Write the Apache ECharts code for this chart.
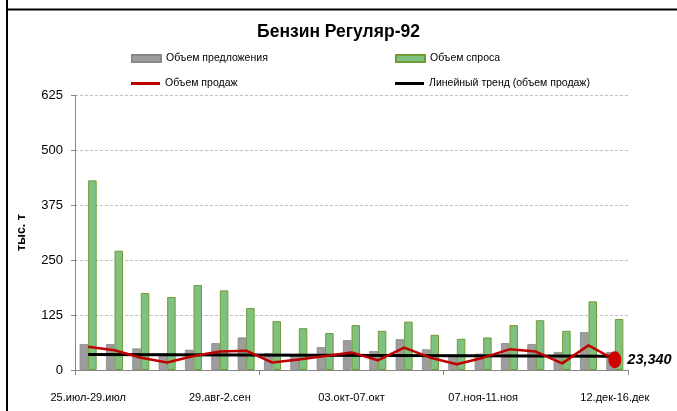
<!DOCTYPE html>
<html>
<head>
<meta charset="utf-8">
<script src="https://cdn.jsdelivr.net/npm/echarts@6/dist/echarts.min.js"></script>
<style>
  html, body { margin: 0; padding: 0; background: #fff; }
  #chart { width: 677px; height: 411px; }
</style>
</head>
<body>
<div id="chart"></div>
<script>
// недели
var weeks = [
  '25.июл-29.июл', '01.авг-05.авг', '08.авг-12.авг', '15.авг-19.авг', '22.авг-26.авг',
  '29.авг-2.сен', '05.сен-09.сен', '12.сен-16.сен', '19.сен-23.сен', '26.сен-30.сен',
  '03.окт-07.окт', '10.окт-14.окт', '17.окт-21.окт', '24.окт-28.окт', '31.окт-04.ноя',
  '07.ноя-11.ноя', '14.ноя-18.ноя', '21.ноя-25.ноя', '28.ноя-02.дек', '05.дек-09.дек',
  '12.дек-16.дек'
];
// объем предложения, тыс. т
var supply = [59, 59, 49, 38, 46, 61, 74, 38, 33, 52, 68, 43, 70, 47, 32, 37, 61, 59, 41, 86, 41];
// объем спроса, тыс. т
var demand = [431, 271, 175, 166, 193, 181, 141, 111, 95, 84, 102, 89, 110, 80, 71, 74, 102, 113, 89, 156, 116];
// объем продаж, тыс. т
var sales = [53, 45, 28, 17, 32, 42, 44, 17, 24, 32, 40, 22, 51, 28, 13, 28, 47, 42, 15, 56, 23.34];
// линейный тренд: начало и конец
var trendEnds = [35, 31.5];
var yTicks = [0, 125, 250, 375, 500, 625];

var FONT = '"Liberation Sans", Arial, sans-serif';

var last = sales.length - 1;
var salesData = sales.map(function (v, i) {
  if (i !== last) return v;
  return {
    value: v,
    symbol: 'circle',
    symbolSize: [13, 17],
    itemStyle: { color: '#d00000' },
    label: {
      show: true,
      position: 'right',
      distance: 6,
      fontFamily: FONT,
      fontSize: 14.5,
      fontWeight: 'bold',
      fontStyle: 'italic',
      color: '#000',
      formatter: function (p) {
        return p.value.toFixed(3).replace('.', ',');
      }
    }
  };
});

var trendData = [[0, trendEnds[0]], [last, trendEnds[1]]];

var legendText = { fontFamily: FONT, fontSize: 10.5, color: '#000' };

var chart = echarts.init(document.getElementById('chart'), null, { renderer: 'canvas' });

chart.setOption({
  animation: false,
  backgroundColor: '#fff',
  textStyle: { fontFamily: FONT },
  title: {
    text: 'Бензин Регуляр-92',
    left: 'center',
    top: 18,
    textStyle: { fontFamily: FONT, fontSize: 17.5, fontWeight: 'bold', color: '#000' }
  },
  legend: [
    { data: [{ name: 'Объем предложения', icon: 'rect' }], left: 126, top: 48, itemWidth: 29, itemHeight: 7, itemGap: 0, textStyle: legendText },
    { data: [{ name: 'Объем спроса', icon: 'rect' }], left: 390, top: 48, itemWidth: 29, itemHeight: 7, itemGap: 0, textStyle: legendText },
    { data: [{ name: 'Объем продаж', icon: 'rect' }], left: 126, top: 73, itemWidth: 29, itemHeight: 3, itemGap: 0, textStyle: legendText },
    { data: [{ name: 'Линейный тренд (объем продаж)', icon: 'rect' }], left: 390, top: 73, itemWidth: 29, itemHeight: 3, itemGap: 0, textStyle: legendText }
  ],
  grid: { left: 75, right: 49, top: 95, bottom: 41, containLabel: false },
  xAxis: {
    type: 'category',
    data: weeks,
    boundaryGap: true,
    axisLine: { lineStyle: { color: '#868686', width: 1 } },
    axisTick: { show: true, interval: 6, length: 5, lineStyle: { color: '#868686' } },
    axisLabel: { interval: 4, fontSize: 11, color: '#000', margin: 22, fontFamily: FONT },
    splitLine: { show: false }
  },
  yAxis: {
    type: 'value',
    min: yTicks[0],
    max: yTicks[yTicks.length - 1],
    interval: yTicks[1] - yTicks[0],
    name: 'тыс. т',
    nameLocation: 'middle',
    nameRotate: 90,
    nameGap: 47,
    nameTextStyle: { fontFamily: FONT, fontSize: 12.5, fontWeight: 'bold', color: '#000' },
    axisLine: { show: true, lineStyle: { color: '#868686' } },
    axisTick: { show: true, length: 4, lineStyle: { color: '#868686' } },
    axisLabel: { fontSize: 13, color: '#000', margin: 12, fontFamily: FONT },
    splitLine: { lineStyle: { color: '#c0c0c0', type: [3, 2] } }
  },
  series: [
    {
      name: 'Объем предложения',
      type: 'bar',
      data: supply,
      barWidth: 8.5,
      barGap: '0%',
      itemStyle: { color: '#9d9d9d', borderColor: '#878787', borderWidth: 0.8 }
    },
    {
      name: 'Объем спроса',
      type: 'bar',
      data: demand,
      barWidth: 8.5,
      barGap: '0%',
      itemStyle: { color: '#80c080', borderColor: '#6f9b34', borderWidth: 1 }
    },
    {
      name: 'Объем продаж',
      type: 'line',
      data: salesData,
      symbol: 'none',
      z: 4,
      lineStyle: { color: '#c00000', width: 2.5 },
      itemStyle: { color: '#c00000' }
    },
    {
      name: 'Линейный тренд (объем продаж)',
      type: 'line',
      data: trendData,
      symbol: 'none',
      z: 3,
      lineStyle: { color: '#000', width: 3 },
      itemStyle: { color: '#000' }
    }
  ],
  graphic: [
    { type: 'line', shape: { x1: 7, y1: 0, x2: 7, y2: 411 }, style: { stroke: '#000', lineWidth: 2 } },
    { type: 'line', shape: { x1: 7, y1: 9.5, x2: 677, y2: 9.5 }, style: { stroke: '#000', lineWidth: 2 } }
  ]
});
</script>
</body>
</html>
